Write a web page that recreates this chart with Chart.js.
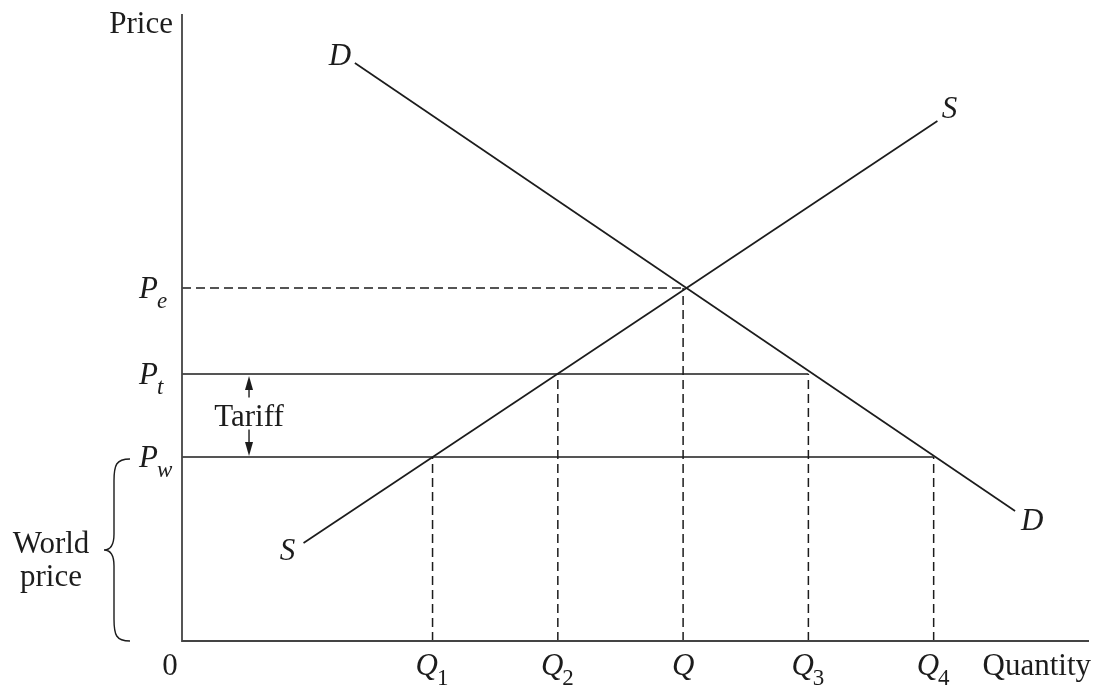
<!DOCTYPE html>
<html>
<head>
<meta charset="utf-8">
<script src="https://cdn.jsdelivr.net/npm/chart.js@4.4.1/dist/chart.umd.min.js"></script>
<style>
  html, body { margin: 0; padding: 0; background: #fff; }
  #wrap { position: relative; width: 1095px; height: 686px; }
</style>
</head>
<body>
<div id="wrap"><canvas id="c"></canvas></div>
<script>
// Tariff diagram: supply/demand with world price and tariff price.
// Units are arbitrary.

const X_MAX = 7.24;
const Y_MAX = 6.27;

const quantityTicks  = [2, 3, 4, 5, 6];
const quantitySubs   = ['1', '2', '', '3', '4'];
const priceTicks     = [1.84, 2.67, 3.53];
const priceSubs      = ['w', 't', 'e'];

const supplyX = [0.97, 6.03];
const supplyY = [0.98, 5.20];
const demandX = [1.38, 6.65];
const demandY = [5.78, 1.30];

const worldPrice  = 1.84;
const tariffPrice = 2.67;
const eqPrice     = 3.53;
const q1 = 2, q2 = 3, qEq = 4, q3 = 5, q4 = 6;

const INK = '#1c1c1c';
const SERIF = '"Liberation Serif", "DejaVu Serif", serif';
const DASH = [9, 5];

function pts(xs, ys) { return xs.map((x, i) => ({ x, y: ys[i] })); }

function solid(data) {
  return { data, borderColor: INK, borderWidth: 1.7, pointRadius: 0, showLine: true, fill: false };
}
function dashed(data) {
  return { ...solid(data), borderWidth: 1.5, borderDash: DASH };
}
function vdash(q, p) { return dashed([{ x: q, y: 0 }, { x: q, y: p }]); }

const datasets = [
  solid(pts(supplyX, supplyY)),
  solid(pts(demandX, demandY)),
  dashed([{ x: 0, y: eqPrice }, { x: qEq, y: eqPrice }]),
  solid([{ x: 0, y: tariffPrice }, { x: q3, y: tariffPrice }]),
  solid([{ x: 0, y: worldPrice }, { x: q4, y: worldPrice }]),
  vdash(q1, worldPrice),
  vdash(q2, tariffPrice),
  vdash(qEq, eqPrice),
  vdash(q3, tariffPrice),
  vdash(q4, worldPrice),
];

// main letter + subscript drawn at (x, baseline)
function subText(ctx, main, sub, x, y, align) {
  ctx.font = 'italic 31px ' + SERIF;
  const wMain = ctx.measureText(main).width;
  ctx.font = 'italic 23px ' + SERIF;
  const wSub = sub ? ctx.measureText(sub).width : 0;
  let left = x;
  if (align === 'center') left = x - (wMain + wSub) / 2;
  ctx.textAlign = 'left';
  ctx.font = 'italic 31px ' + SERIF;
  ctx.fillText(main, left, y);
  if (sub) {
    ctx.font = (/\d/.test(sub) ? '' : 'italic ') + '23px ' + SERIF;
    ctx.fillText(sub, left + wMain - 1, y + 10);
  }
}

function arrowHead(ctx, x, tipY, dir) {
  ctx.beginPath();
  ctx.moveTo(x, tipY);
  ctx.lineTo(x - 4, tipY - dir * 14);
  ctx.lineTo(x + 4, tipY - dir * 14);
  ctx.closePath();
  ctx.fill();
}

const decor = {
  id: 'decor',
  afterDatasetsDraw(chart) {
    const { ctx } = chart;
    const xs = chart.scales.x, ys = chart.scales.y;
    const X = v => xs.getPixelForValue(v);
    const Y = v => ys.getPixelForValue(v);
    ctx.save();

    // axes
    ctx.strokeStyle = '#444';
    ctx.lineWidth = 1.8;
    ctx.beginPath();
    ctx.moveTo(X(0), Y(Y_MAX));
    ctx.lineTo(X(0), Y(0));
    ctx.lineTo(X(X_MAX), Y(0));
    ctx.stroke();

    ctx.fillStyle = INK;
    ctx.textBaseline = 'alphabetic';

    // axis titles
    ctx.font = '31px ' + SERIF;
    ctx.textAlign = 'right';
    ctx.fillText('Price', X(0) - 9, 33);
    ctx.fillText('Quantity', X(X_MAX) + 2, Y(0) + 34);
    ctx.textAlign = 'center';
    ctx.fillText('0', X(0) - 12, Y(0) + 34);

    // quantity ticks
    quantityTicks.forEach((q, i) => {
      subText(ctx, 'Q', quantitySubs[i], X(q), Y(0) + 34, 'center');
    });
    // price ticks
    priceTicks.forEach((p, i) => {
      subText(ctx, 'P', priceSubs[i], X(0) - 43, Y(p) + 10, 'left');
    });

    // curve labels
    ctx.font = 'italic 31px ' + SERIF;
    ctx.textAlign = 'center';
    ctx.fillText('D', X(demandX[0]) - 15, Y(demandY[0]) + 2);
    ctx.fillText('D', X(demandX[1]) + 17, Y(demandY[1]) + 19);
    ctx.fillText('S', X(supplyX[1]) + 12, Y(supplyY[1]) - 3);
    ctx.fillText('S', X(supplyX[0]) - 16, Y(supplyY[0]) + 17);

    // tariff arrow
    const ax = X(0.535);
    const top = Y(tariffPrice), bot = Y(worldPrice);
    const mid = (top + bot) / 2;
    ctx.strokeStyle = INK;
    ctx.lineWidth = 1.4;
    ctx.beginPath();
    ctx.moveTo(ax, top + 12); ctx.lineTo(ax, mid - 18);
    ctx.moveTo(ax, mid + 14); ctx.lineTo(ax, bot - 12);
    ctx.stroke();
    arrowHead(ctx, ax, top + 2, -1);
    arrowHead(ctx, ax, bot - 1, 1);
    ctx.font = '31px ' + SERIF;
    ctx.textAlign = 'center';
    ctx.fillText('Tariff', ax, mid + 10);

    // world price brace
    const bx = X(0) - 52;
    const b0 = Y(worldPrice) + 2, b1 = Y(0);
    const bm = (b0 + b1) / 2;
    ctx.lineWidth = 1.4;
    ctx.beginPath();
    ctx.moveTo(bx, b0);
    ctx.bezierCurveTo(bx - 14, b0, bx - 16, b0 + 6, bx - 16, b0 + 22);
    ctx.lineTo(bx - 16, bm - 16);
    ctx.bezierCurveTo(bx - 16, bm - 4, bx - 20, bm, bx - 26, bm);
    ctx.bezierCurveTo(bx - 20, bm, bx - 16, bm + 4, bx - 16, bm + 16);
    ctx.lineTo(bx - 16, b1 - 22);
    ctx.bezierCurveTo(bx - 16, b1 - 6, bx - 14, b1, bx, b1);
    ctx.stroke();
    ctx.font = '31px ' + SERIF;
    ctx.textAlign = 'center';
    ctx.fillText('World', 51, bm + 3);
    ctx.fillText('price', 51, bm + 36);

    ctx.restore();
  },
};

new Chart(document.getElementById('c'), {
  type: 'scatter',
  data: { datasets },
  options: {
    responsive: true,
    maintainAspectRatio: false,
    animation: false,
    layout: { padding: { left: 182, right: 6, top: 14, bottom: 45 } },
    plugins: { legend: { display: false }, tooltip: { enabled: false } },
    scales: {
      x: { type: 'linear', min: 0, max: X_MAX, display: false },
      y: { type: 'linear', min: 0, max: Y_MAX, display: false },
    },
  },
  plugins: [decor],
});
</script>
</body>
</html>
